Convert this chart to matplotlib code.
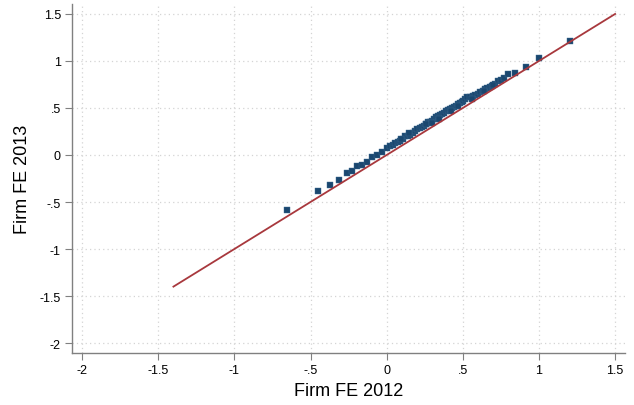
import matplotlib
matplotlib.use("Agg")
import matplotlib.pyplot as plt
import numpy as np

fe2012 = [-0.656, -0.448, -0.372, -0.31, -0.262, -0.229, -0.196, -0.163, -0.13, -0.098,
          -0.065, -0.032, 0.001, 0.023, 0.040, 0.056, 0.072, 0.089, 0.105, 0.122, 0.138,
          0.155, 0.172, 0.188, 0.202, 0.216, 0.229, 0.242, 0.256, 0.271, 0.284, 0.297,
          0.310, 0.323, 0.337, 0.351, 0.364, 0.377, 0.392, 0.406, 0.417, 0.428, 0.441,
          0.454, 0.468, 0.482, 0.493, 0.504, 0.515, 0.526, 0.548, 0.564, 0.58, 0.597,
          0.613, 0.630, 0.646, 0.662, 0.679, 0.695, 0.712, 0.734, 0.752, 0.771, 0.8,
          0.845, 0.913, 1.0, 1.204,
          0.095, 0.150, 0.260, 0.300, 0.345, 0.420, 0.470, 0.560, 0.640, 0.700]
fe2013 = [-0.588, -0.38, -0.316, -0.262, -0.195, -0.167, -0.12, -0.103, -0.071, -0.025,
          0.0, 0.029, 0.074, 0.093, 0.110, 0.128, 0.140, 0.152, 0.175, 0.199, 0.205,
          0.213, 0.238, 0.259, 0.272, 0.287, 0.295, 0.305, 0.330, 0.348, 0.355, 0.365,
          0.385, 0.401, 0.415, 0.429, 0.438, 0.447, 0.465, 0.479, 0.488, 0.497, 0.510,
          0.525, 0.540, 0.553, 0.562, 0.571, 0.600, 0.62, 0.613, 0.625, 0.638, 0.650,
          0.667, 0.685, 0.702, 0.710, 0.72, 0.738, 0.755, 0.784, 0.800, 0.822, 0.862,
          0.869, 0.933, 1.03, 1.216,
          0.175, 0.230, 0.330, 0.345, 0.385, 0.470, 0.520, 0.600, 0.680, 0.745]
line_x = [-1.4, 1.5]
line_y = [-1.4, 1.5]

xticks = [-2, -1.5, -1, -0.5, 0, 0.5, 1, 1.5]
xticklabels = ["-2", "-1.5", "-1", "-.5", "0", ".5", "1", "1.5"]
yticks = [-2, -1.5, -1, -0.5, 0, 0.5, 1, 1.5]
yticklabels = ["-2", "-1.5", "-1", "-.5", "0", ".5", "1", "1.5"]

plt.rcParams['font.family'] = ['Liberation Sans', 'DejaVu Sans']

fig = plt.figure(figsize=(6.34, 4.06), dpi=100)
ax = fig.add_axes([72/634, 1-354/406, (625-72)/634, (354-5)/406])

ax.scatter(fe2012, fe2013, marker='s', s=25, color='#1a476f', linewidths=0.3,
           edgecolors='#3d6a92', zorder=3)
ax.plot(line_x, line_y, color='#a8383d', lw=1.3, zorder=4)

ax.set_xlim(-2.066, 1.565)
ax.set_ylim(-2.106, 1.606)
ax.set_xticks(xticks)
ax.set_xticklabels(xticklabels)
ax.set_yticks(yticks)
ax.set_yticklabels(yticklabels)

ax.grid(True, linestyle=(0, (1, 2.5)), color='#d4d4d4', lw=0.9)
ax.set_axisbelow(True)
for s in ['top', 'right']:
    ax.spines[s].set_visible(False)
for s in ['left', 'bottom']:
    ax.spines[s].set_color('#808080')
    ax.spines[s].set_linewidth(1.0)
ax.tick_params(axis='both', length=5, width=0.8, color='#808080', labelsize=9,
               labelcolor='black', pad=3)

ax.set_xlabel("Firm FE 2012", fontsize=13, labelpad=4)
ax.set_ylabel("Firm FE 2013", fontsize=13, labelpad=6)

fig.savefig("out.png", dpi=100, facecolor='white')
